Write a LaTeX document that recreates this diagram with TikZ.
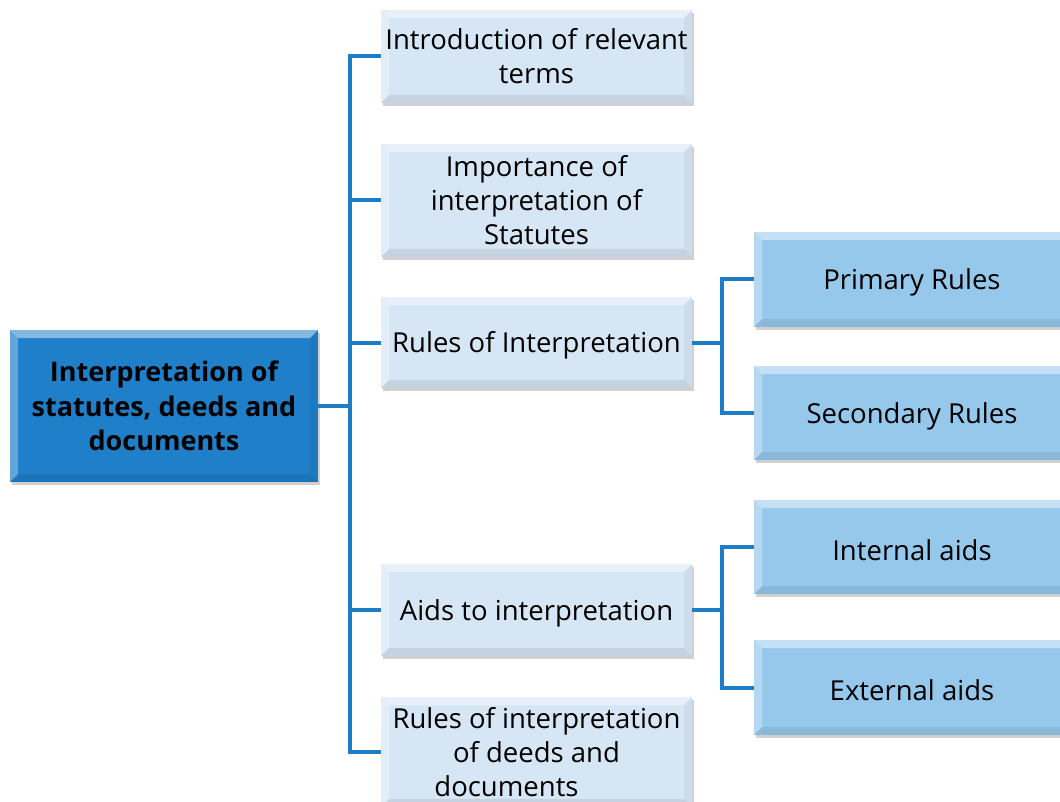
\documentclass[tikz,border=0pt]{standalone}
\usepackage{fontspec}
\setmainfont{Open Sans}
\usetikzlibrary{shadows}
\definecolor{conncol}{RGB}{31,125,198}
\definecolor{rootfill}{RGB}{31,127,200}
\definecolor{midfill}{RGB}{214,230,245}
\definecolor{rightfill}{RGB}{150,200,236}
\newcommand\lowtxt[1]{\raisebox{-3pt}[\height][\depth]{#1}}
\tikzset{
  bevel/.style={path picture={
    \fill[white,opacity=0.45] (path picture bounding box.north west) -- (path picture bounding box.north east) -- ([xshift=-8pt,yshift=-8pt]path picture bounding box.north east) -- ([xshift=8pt,yshift=-8pt]path picture bounding box.north west) -- cycle;
    \fill[white,opacity=0.3] (path picture bounding box.north west) -- ([xshift=8pt,yshift=-8pt]path picture bounding box.north west) -- ([xshift=8pt,yshift=8pt]path picture bounding box.south west) -- (path picture bounding box.south west) -- cycle;
    \fill[black,opacity=0.08] (path picture bounding box.south west) -- ([xshift=8pt,yshift=8pt]path picture bounding box.south west) -- ([xshift=-8pt,yshift=8pt]path picture bounding box.south east) -- (path picture bounding box.south east) -- cycle;
    \fill[black,opacity=0.04] (path picture bounding box.north east) -- ([xshift=-8pt,yshift=-8pt]path picture bounding box.north east) -- ([xshift=-8pt,yshift=8pt]path picture bounding box.south east) -- (path picture bounding box.south east) -- cycle;
  }},
  box/.style={rectangle, bevel, inner sep=0pt, align=center, text=black,
    drop shadow={shadow xshift=2pt, shadow yshift=-3pt, opacity=0.3, fill=black!60}},
  rootbox/.style={box, fill=rootfill, minimum width=308pt, minimum height=152pt,
    font=\fontsize{27}{34.5}\selectfont\bfseries},
  midbox/.style={box, fill=midfill, minimum width=311pt,
    font=\fontsize{27.5}{34}\selectfont},
  rightbox/.style={box, fill=rightfill, minimum width=316pt,
    font=\fontsize{27.5}{34}\selectfont},
  conn/.style={draw=conncol, line width=4pt}
}
\begin{document}
\begin{tikzpicture}[x=1pt,y=-1pt]
\useasboundingbox (0,0) rectangle (1060,802);
\node[rootbox] (root) at (164,406) {Interpretation of\\statutes, deeds and\\documents};
\node[midbox, minimum height=93pt] (b1) at (536.5,56.5) {Introduction of relevant\\terms};
\node[midbox, minimum height=113pt] (b2) at (536.5,200.5) {Importance of\\interpretation of\\Statutes};
\node[midbox, minimum height=91pt] (b3) at (536.5,342.5) {\lowtxt{Rules of Interpretation}};
\node[midbox, minimum height=92pt] (b4) at (536.5,610) {\lowtxt{Aids to interpretation}};
\node[midbox, minimum height=110pt] (b5) at (536.5,752) {Rules of interpretation\\of deeds and\\documents\hspace*{60pt}};
\node[rightbox, minimum height=95pt] (p1) at (912,279.5) {\lowtxt{Primary Rules}};
\node[rightbox, minimum height=94pt] (p2) at (912,413) {\lowtxt{Secondary Rules}};
\node[rightbox, minimum height=94pt] (a1) at (912,547) {\lowtxt{Internal aids}};
\node[rightbox, minimum height=95pt] (a2) at (912,687.5) {\lowtxt{External aids}};
\coordinate (tx) at (350,0);
\coordinate (sx) at (722,0);
\draw[conn] (root.east) -- (root.east -| tx);
\draw[conn] (b1.west) -- (b1.west -| tx) -- (b5.west -| tx) -- (b5.west);
\draw[conn] (b2.west) -- (b2.west -| tx);
\draw[conn] (b3.west) -- (b3.west -| tx);
\draw[conn] (b4.west) -- (b4.west -| tx);
\draw[conn] (b3.east) -- (b3.east -| sx);
\draw[conn] (p1.west) -- (p1.west -| sx) -- (p2.west -| sx) -- (p2.west);
\draw[conn] (b4.east) -- (b4.east -| sx);
\draw[conn] (a1.west) -- (a1.west -| sx) -- (a2.west -| sx) -- (a2.west);
\end{tikzpicture}
\end{document}
